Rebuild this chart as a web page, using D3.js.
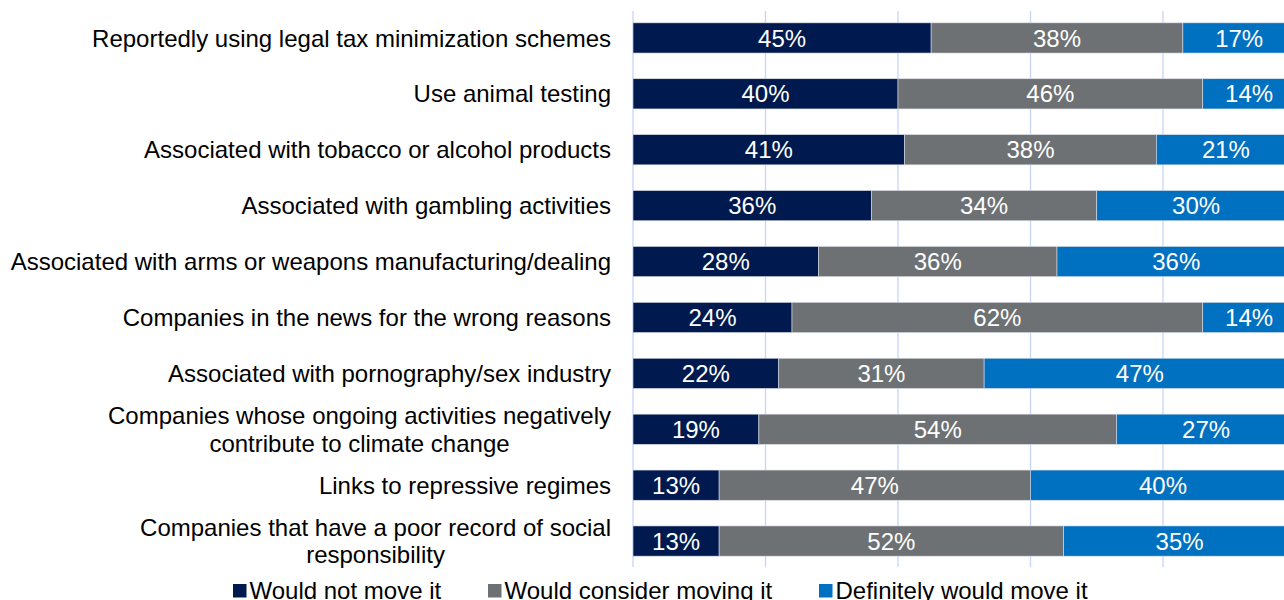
<!DOCTYPE html>
<html>
<head>
<meta charset="utf-8">
<script src="https://d3js.org/d3.v7.min.js"></script>
<style>
  body { margin: 0; background: #fff; overflow: hidden; }
  text { font-family: 'Liberation Sans', Arial, sans-serif; }
</style>
</head>
<body>
<script>
// categories, top to bottom
var categories = [
  'Reportedly using legal tax minimization schemes',
  'Use animal testing',
  'Associated with tobacco or alcohol products',
  'Associated with gambling activities',
  'Associated with arms or weapons manufacturing/dealing',
  'Companies in the news for the wrong reasons',
  'Associated with pornography/sex industry',
  'Companies whose ongoing activities negatively|contribute to climate change',
  'Links to repressive regimes',
  'Companies that have a poor record of social|responsibility'
];
var notMove      = [45, 40, 41, 36, 28, 24, 22, 19, 13, 13];
var considerMove = [38, 46, 38, 34, 36, 62, 31, 54, 47, 52];
var defMove      = [17, 14, 21, 30, 36, 14, 47, 27, 40, 35];
var seriesNames  = ['Would not move it', 'Would consider moving it', 'Definitely would move it'];
var colors       = ['#001a4f', '#6d7173', '#0070c0'];
var xTicks       = [0, 20, 40, 60, 80, 100];

var W = 1284, H = 600;
var svg = d3.select('body').append('svg')
  .attr('width', W).attr('height', H);

var x = d3.scaleLinear().domain([0, 100]).range([633, 1295.5]);
var y = d3.scaleBand().domain(categories).range([10, 569]).paddingInner(0.46).paddingOuter(0.23);

// gridlines
svg.append('g').selectAll('line')
  .data(xTicks).enter().append('line')
  .attr('x1', d => x(d)).attr('x2', d => x(d))
  .attr('y1', 11).attr('y2', 567)
  .attr('stroke', '#c6d5f7').attr('stroke-width', 1.3);

// stacked data
var rows = categories.map((c, i) => ({ cat: c, vals: [notMove[i], considerMove[i], defMove[i]] }));
var stack = d3.stack().keys([0, 1, 2]).value((d, k) => d.vals[k]);
var layers = stack(rows);

var g = svg.append('g');
layers.forEach((layer, k) => {
  var lg = g.append('g');
  lg.selectAll('rect').data(layer).enter().append('rect')
    .attr('x', d => x(d[0]))
    .attr('y', d => y(d.data.cat))
    .attr('width', d => x(d[1]) - x(d[0]))
    .attr('height', y.bandwidth())
    .attr('fill', colors[k])
    .attr('stroke', '#d9dde6').attr('stroke-width', 0.6);
  lg.selectAll('text').data(layer).enter().append('text')
    .attr('x', d => (x(d[0]) + x(d[1])) / 2)
    .attr('y', d => y(d.data.cat) + y.bandwidth() / 2)
    .attr('dy', '0.36em')
    .attr('text-anchor', 'middle')
    .attr('fill', '#fff')
    .attr('font-size', 24)
    .text(d => (d[1] - d[0]) + '%');
});

// category labels (multi-line centred, block right aligned)
var lab = svg.append('g');
categories.forEach(c => {
  var lines = c.split('|');
  var t = lab.append('text').attr('font-size', 24).attr('fill', '#000');
  var cy = y(c) + y.bandwidth() / 2;
  var lh = 27.5;
  lines.forEach(ln => t.append('tspan').text(ln));
  var tspans = t.selectAll('tspan').nodes();
  var maxW = d3.max(tspans, n => n.getComputedTextLength());
  var cx = 611 - maxW / 2;
  tspans.forEach((n, i) => {
    d3.select(n)
      .attr('x', cx)
      .attr('y', cy + (i - (lines.length - 1) / 2) * lh)
      .attr('dy', '0.36em')
      .attr('text-anchor', 'middle');
  });
});

// legend
var legX = [233, 488, 819];
var leg = svg.append('g');
seriesNames.forEach((s, k) => {
  leg.append('rect').attr('x', legX[k]).attr('y', 584).attr('width', 13.5).attr('height', 13.5)
    .attr('fill', colors[k]);
  leg.append('text').attr('x', legX[k] + 16.5).attr('y', 590.5).attr('dy', '0.36em')
    .attr('font-size', 24).attr('fill', '#000').text(s);
});
</script>
</body>
</html>
